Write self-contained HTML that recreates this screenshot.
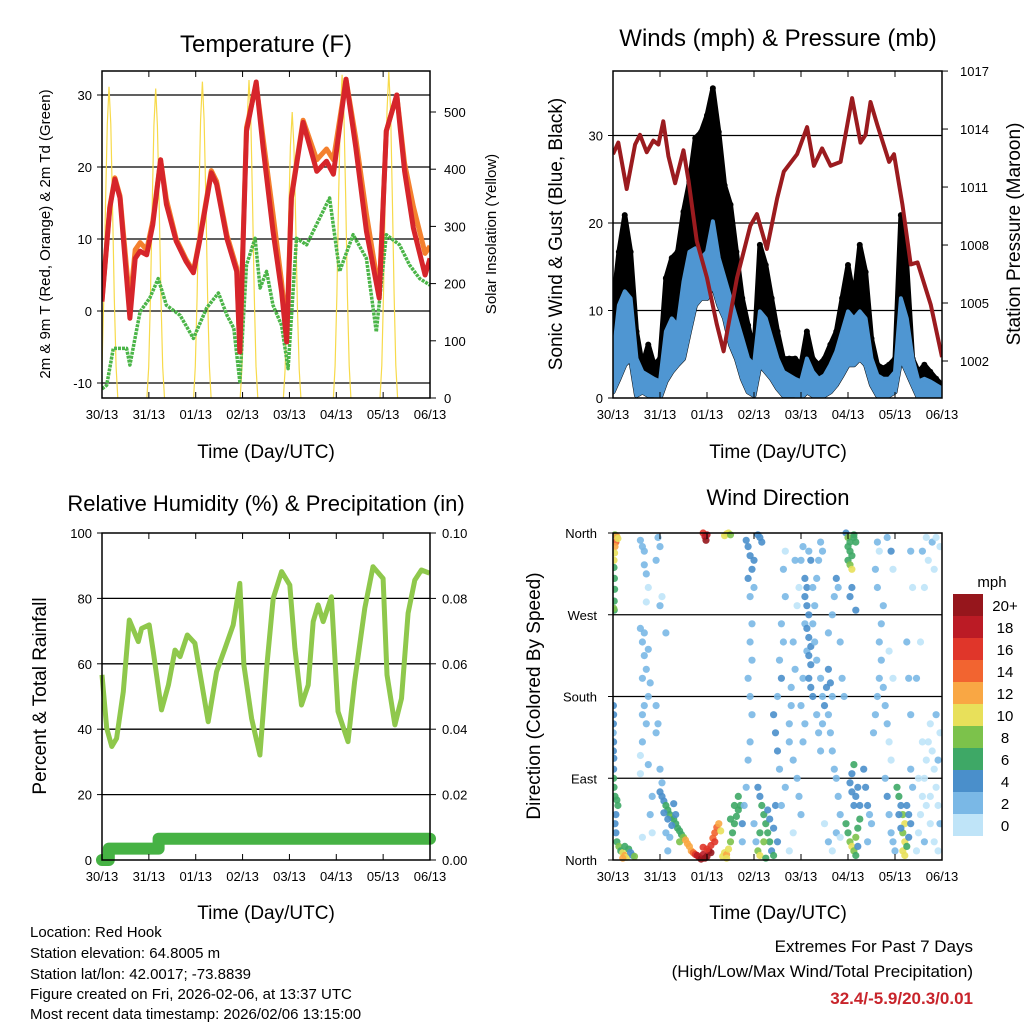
<!DOCTYPE html>
<html><head><meta charset="utf-8">
<style>
html,body{margin:0;padding:0;background:#fff;}
svg{display:block;font-family:"Liberation Sans",sans-serif;}
</style></head>
<body>
<svg id="chart" width="1024" height="1024" viewBox="0 0 1024 1024" xmlns="http://www.w3.org/2000/svg">
<rect x="0" y="0" width="1024" height="1024" fill="#fff"/>
<g id="p1"></g>
<g id="p2"></g>
<g id="p3"></g>
<g id="p4"></g>
<g id="cb"></g>
<g font-size="15" fill="#000">
<text x="30" y="937">Location: Red Hook</text>
<text x="30" y="958">Station elevation: 64.8005 m</text>
<text x="30" y="979">Station lat/lon: 42.0017; -73.8839</text>
<text x="30" y="999">Figure created on Fri, 2026-02-06, at 13:37 UTC</text>
<text x="30" y="1019">Most recent data timestamp: 2026/02/06 13:15:00</text>
</g>
<g text-anchor="end">
<text x="973" y="952" font-size="17">Extremes For Past 7 Days</text>
<text x="973" y="977" font-size="17">(High/Low/Max Wind/Total Precipitation)</text>
<text x="973" y="1004" font-size="17" font-weight="bold" fill="#c8242b">32.4/-5.9/20.3/0.01</text>
</g>
</svg>
<script>
// ---------- data ----------
const xTickLabels = ["30/13","31/13","01/13","02/13","03/13","04/13","05/13","06/13"];
const tempTicks = [-10,0,10,20,30];
const solarTicks = [0,100,200,300,400,500];
const windTicks = [0,10,20,30];
const presTicks = [1002,1005,1008,1011,1014,1017];
const rhTicks = [0,20,40,60,80,100];
const precTicks = [0,0.02,0.04,0.06,0.08,0.10];
const dirLabels = ["North","East","South","West","North"];
const cbLabels = ["20+","18","16","14","12","10","8","6","4","2","0"];
const speedColors = ["#bfe4f8","#7ab8e6","#4a8fcb","#3ea866","#7cc24b","#e8e05a","#f9a744","#f26430","#e0362a","#bb1b25","#96161c"];

const redH = [0,4,6.6,9.2,14.3,17,19.5,22.9,26,30,33,38,43,46.8,50,56,58.7,64,69,70.6,74,79,82.5,87.6,92,94.6,97,103,110,115,118.5,125,130,135.4,142,145.6,151,155,159.5,165.5,168];
const redT = [1.3,14.3,18.3,15.7,-1,7.3,8.3,7.8,12,21,14.8,9.7,6.9,5.3,9.7,19.2,17.6,10,5.5,-5.7,25,31.8,22.7,11.1,2.7,-4.3,15.7,26.2,19.4,20.8,19,32.2,22.7,11.1,1.8,25,30,19.4,11.5,5,7.3];
const orangeT = [1.5,14.5,18.5,16,1,8.5,9.5,8.5,12.5,21,15.5,10,7.2,5.5,10,19.5,18,10.5,6,-5,25.5,31.5,24,13.5,4,-3,16,26.5,21,22.5,21,32.2,24,13.5,2.5,25,30,20.5,14.5,8,9];
const greenH = [0,2.4,5.8,12.6,14.3,19.5,24.5,28.8,33,40,46.8,53.6,59.6,64,67.5,70.6,74,78.4,81,84.3,87.6,92,95.3,99.6,104.8,111.5,116.6,121.7,128.6,135.4,140.5,145.6,152.4,157.5,162.7,168];
const greenT = [-10.8,-10.3,-5.2,-5.2,-7.5,-0.1,1.8,4.5,0.8,-0.6,-3.8,0.4,2.5,-0.6,-2.4,-9.8,6.4,10.1,3.2,5.5,0.8,-2,-8,10.1,9.2,12.9,15.7,5.5,10.6,7.3,-2.9,10.6,9.2,6.4,4.5,3.6];
const solarPeakHour = [3.6,27.5,51.4,75.3,97.4,123,146.9];
const solarPeak = [544,541,553,556,500,565,570];
const solarProfile = [0,0.1,0.32,0.62,0.88,1,0.88,0.62,0.32,0.1,0];

const presH = [0,2.7,7,11.3,13.8,17.2,20.6,23.2,25.7,28.3,31.7,36,38.6,42.8,48,53,56.5,63.3,70.1,73.5,78.6,83.8,87.2,94,99.1,102.6,106.8,111.1,116.2,122.1,126.4,129,131.5,135,141,143.5,147.8,152,155.5,162.3,168];
const presP = [1012.7,1013.3,1010.9,1013.2,1013.7,1012.8,1013.4,1013.2,1014.4,1012.6,1011.2,1012.9,1011.3,1008.2,1006.3,1003.9,1002.5,1006.3,1009.0,1009.6,1007.8,1010.4,1011.8,1012.7,1014.1,1012.1,1013,1012.1,1012.3,1015.6,1013.3,1013.7,1015.4,1014.2,1012.3,1012.7,1010.1,1007,1007.1,1004.9,1002.2];
const windH = [0,3,6,9,12,15,18,21,24,27,30,33,36,39,42,45,48,51,54,57,60,63,66,69,72,75,78,81,84,87,90,93,96,99,102,105,108,111,114,117,120,123,126,129,132,135,138,141,144,147,150,153,156,159,162,165,168];
const gustW = [10.6,16.7,20.9,16.7,7.6,3.8,6.1,3.8,4.5,13.7,16,16.7,21.3,24.7,29.7,30.4,32.3,35.4,30.4,24.3,22.1,16.7,11.4,8.3,5.3,17.5,15.2,11.4,7.6,4.5,4.5,4.5,3.8,7.6,4.5,3.8,4.5,6.1,7.6,11.4,15.2,11.4,17.5,14.4,6.8,3.8,3.4,3.8,4.5,20.9,15.2,4.5,3.0,3.8,3.0,2.2,1.5];
const windHigh = [4.5,10.6,12.2,11.4,4.5,3.0,2.6,2.2,1.9,7.6,9.1,8.3,13.3,16.7,17.1,16,16.7,20.2,16,13.7,11.4,9.1,6.8,4.5,3.8,9.9,9.1,6.8,4.5,3.0,2.6,2.2,1.9,4.5,3.0,2.2,2.6,3.8,5.3,7.6,9.9,9.1,9.9,9.1,4.5,2.6,2.2,2.2,3.0,11.4,9.1,4.5,1.9,2.2,1.9,1.5,1.1];
const windLow = [0.7,2.2,3.8,4.5,0.3,0.7,0.3,0.3,0,1.9,3.0,3.8,4.5,7.6,10.6,11.4,11.4,12.9,10.6,9.1,6.1,4.5,2.2,0.7,0.3,3.8,3.0,2.2,1.1,0.3,0.3,0.3,0,0.7,0.3,0,0.3,0.7,1.5,2.6,3.8,3.8,4.5,3.8,1.5,0.3,0,0.3,0.7,4.5,3.0,1.5,0,0.3,0,0,0];

const rhH = [0,2.4,5,7.5,10.9,14,18.6,20.3,24.2,26.3,30.5,34,37.4,40,43.7,47.6,54.4,58.7,63,67.2,70.6,72.7,76.6,80.9,84.3,87.7,92,96.2,98.8,102.2,105.6,108.2,110.7,113.3,117.5,120.9,126,129.4,134.6,138.8,144,146,150,153.4,156.8,160.2,163.6,167.8];
const rhV = [56.6,40.3,34.7,37.2,51.5,73.4,66.8,70.8,71.9,63.7,45.9,53.5,64.2,62.2,68.8,66.3,42.3,57.6,64.7,71.9,84.6,59.6,43.3,32.1,58.6,80,88.2,84.1,64.7,47.4,53.5,72.9,78,72.9,80.5,45.4,36.2,54.5,77,89.7,86.1,56.6,41.3,49.4,75.5,85.6,88.7,87.7];
const precH = [0,3.5,3.5,29,29,168];
const precV = [0,0,0.0035,0.0035,0.0065,0.0065];

const dirObs = [
[1,358,8],[2,356,12],[1.5,350,14],[2.5,354,10],[1,345,12],[0.8,338,10],[0.5,330,11],[0.5,322,6],[0.7,310,6],[0.8,298,6],[0.6,285,6],[0.6,275,7],[0.4,277,8],
[0.2,170,4],[0.3,160,4],[0.2,150,4],[0.1,140,3],[0.3,130,4],[0.2,120,4],[0.4,112,4],[0.3,100,5],[0.3,90,6],[0.5,80,6],[1,70,6],[2,66,7],[2.5,60,6],[1.5,50,4],[1,40,4],[1.5,30,4],[2,20,6],[3,15,8],[4,10,7],[5,8,10],[6,5,12],[7,3,11],[5,2,13],[6,15,6],[8,12,6],[9,8,4],[10,5,5],[11,4,8],
[14,352,2],[15,345,2],[16,340,2],[16,325,2],[17,315,2],[18,300,1],[17,284,1],[14,255,2],[16,250,3],[15,240,2],[16,225,2],[18,232,3],[17,210,3],[15,200,2],[19,195,2],[18,180,2],[16,170,2],[15,160,2],[17,150,2],[15,130,2],[14,115,1],[14,95,1],[18,105,2],[22,170,2],[22,140,2],[23,150,3],[24,100,2],[25,85,2],[20,70,2],[19,50,2],[20,30,1],[15,25,1],[22,330,2],[24,345,2],[23,355,2],[25,290,1],[24,280,2],[27,250,2],[28,10,2],
[24,75,4],[25,70,4],[26,65,5],[27,60,6],[28,55,7],[29,50,7],[30,47,8],[31,45,7],[32,40,6],[33,35,6],[34,32,6],[35,28,6],[26,52,4],[28,45,4],[30,38,4],[32,50,4],[27,30,2],[29,25,2],[31,62,4],[34,20,8],[36,25,8],
[37,22,12],[38,18,12],[39,15,12],[40,10,13],[41,8,14],[42,6,16],[43,5,18],[44,3,19],[45,1,20],[46,6,18],[47,2,20],[48,4,20],[49,10,18],[50,16,16],[51,24,14],[52,30,15],[53,36,14],[54,40,12],[55,32,11],[52,20,16],[50,8,20],[46,14,16],[48,12,16],
[46,360,16],[47,356,18],[47.5,352,20],[48,358,18],[57,357,10],[58,359,10],[59,360,10],[60,358,9],
[56,4,10],[57,8,11],[58,6,12],[59,12,10],[60,20,8],[61,30,7],[62,40,6],[63,48,6],[64,55,6],[65,60,6],[60,45,6],[62,60,6],[58,2,10],[64,70,6],[66,40,4],[66,20,3],
[68,352,4],[69,345,4],[70,335,4],[71,320,4],[69,310,4],[70,290,2],[71,260,2],[70,240,2],[71,220,2],[69,200,3],[70,180,3],[71,160,3],[70,130,3],[69,110,3],[68,80,2],[67,60,2],[72,40,3],[73,20,3],[74,358,4],[75,355,4],[76,350,4],[72,330,4],[72,300,3],
[74,80,4],[75,70,5],[76,60,6],[77,50,6],[78,40,7],[79,30,6],[80,20,6],[81,10,5],[82,5,6],[75,30,7],[77,20,8],[79,55,4],[80,45,4],[82,35,4],[74,10,8],[75,5,10],[78,2,6],[83,60,4],[84,20,4],
[82,160,4],[83,140,4],[84,120,4],[85,100,3],[84,180,3],[86,200,4],[85,220,2],[87,240,2],[86,260,2],[88,290,2],[87,320,2],[88,340,1],[90,150,3],[91,170,3],[90,130,3],[92,110,2],[91,190,2],[93,210,2],[92,240,2],[94,280,1],[95,300,1],[93,330,2],[94,90,2],[95,70,2],[96,50,2],[92,30,1],[90,10,1],[86,60,2],[88,80,2],[97,130,2],[98,150,2],[96,170,2],[97,200,2],[99,230,2],[98,260,2],[96,330,2],[97,345,3],
[98,310,4],[99,300,4],[98,290,4],[99,280,5],[100,270,4],[99,255,4],[100,245,5],[101,235,5],[100,225,4],[101,215,5],[100,200,4],[101,190,4],[102,180,4],[102,260,3],[103,240,3],[104,220,3],[102,300,3],[103,280,3],[101,330,4],[100,340,2],
[104,160,3],[105,140,3],[106,120,2],[106,200,3],[107,180,3],[108,170,4],[107,150,3],[109,190,4],[110,210,4],[111,195,4],[112,180,3],[110,160,3],[111,140,3],[112,120,2],[113,100,2],[114,90,2],[115,70,2],[116,50,2],[104,310,2],[105,330,2],[106,350,2],[107,340,2],[110,250,2],[112,270,2],[113,290,3],[114,310,4],[115,300,3],[116,240,2],[117,200,2],[118,180,2],[108,40,1],[110,20,2],[112,10,1],[114,30,2],[116,25,1],
[119,360,4],[120,355,8],[121,350,7],[120,345,6],[121,340,7],[122,335,6],[120,330,6],[121,325,8],[122,320,10],[123,355,6],[124,350,6],[123,358,7],[122,300,4],[121,290,4],[124,275,4],[119,40,6],[120,30,6],[121,20,8],[122,15,10],[123,10,9],[124,25,8],[125,35,6],[126,45,6],[123,60,4],[122,75,4],[121,85,4],[122,95,4],[123,105,6],[124,70,4],[125,80,4],[126,60,4],[124,5,6],[125,15,4],
[128,100,4],[129,80,4],[130,60,4],[131,50,3],[132,40,3],[130,20,2],[133,140,2],[134,160,2],[135,180,3],[136,200,3],[137,220,3],[136,240,2],[137,260,2],[138,280,2],[135,300,2],[134,320,2],[136,340,1],[135,350,2],[138,190,2],[139,170,2],[140,150,2],[141,130,1],[142,110,1],[139,90,3],[140,70,4],[141,50,2],[142,30,2],[143,20,2],[144,10,2],[140,355,2],[142,340,4],[143,320,1],[141,230,1],[143,200,1],
[145,80,6],[146,70,6],[147,60,4],[148,50,8],[149,40,10],[148,30,8],[149,20,10],[148,10,10],[149,5,10],[150,60,4],[151,50,4],[152,40,4],[151,25,4],[150,15,6],[146,50,4],[147,35,4],[152,100,2],[153,80,2],[152,160,2],[151,200,2],[150,240,2],[153,300,1],[152,340,2],
[155,10,1],[156,30,1],[157,50,0],[158,70,1],[159,90,0],[160,110,1],[161,130,1],[162,150,1],[163,120,0],[164,100,1],[165,80,1],[166,60,1],[167,40,2],[156,90,1],[158,130,1],[160,60,1],[162,40,1],[164,20,1],[166,10,1],[155,200,2],[157,240,1],[159,300,1],[161,330,1],[163,350,2],[165,355,1],[167,345,1],[160,355,1],[158,340,2],[164,320,1],[166,110,2],[167,140,1],[165,160,2],[162,70,1],[159,20,2]
];

// ---------- helpers ----------
const NS = "http://www.w3.org/2000/svg";
function mk(parent, tag, attrs, text){
  const e = document.createElementNS(NS, tag);
  for (const k in attrs) e.setAttribute(k, attrs[k]);
  if (text !== undefined) e.textContent = text;
  parent.appendChild(e);
  return e;
}
function pathFrom(xs, ys, fx, fy){
  let d = "";
  for (let i=0;i<xs.length;i++) d += (i?"L":"M") + fx(xs[i]).toFixed(1) + "," + fy(ys[i]).toFixed(1);
  return d;
}
function frame(g, L, T, R, B, nameBase){
  const f = mk(g,"rect",{x:L,y:T,width:R-L,height:B-T,fill:"none",stroke:"#000","stroke-width":1.5});
  
  
}
function xAxis(g, L, R, B, T, name){
  const ax = mk(g,"g",{});
  
  
  xTickLabels.forEach((lab,i)=>{
    const x = L + i*(R-L)/7;
    mk(ax,"line",{x1:x,y1:B,x2:x,y2:B-6,stroke:"#000","stroke-width":1});
    mk(ax,"line",{x1:x,y1:T,x2:x,y2:T+6,stroke:"#000","stroke-width":1});
    const t = mk(ax,"text",{x:x,y:B+21,"font-size":13,"text-anchor":"middle"},lab);
    
    
  });
}
function label(g, x, y, txt, size, name, rot, anchor){
  const t = mk(g,"text",{x:x,y:y,"font-size":size,"text-anchor":anchor||"middle"},txt);
  if (rot) t.setAttribute("transform","rotate(-90 "+x+" "+y+")");
  
  
  return t;
}
function hgrid(g, L, R, y){
  mk(g,"line",{x1:L,y1:y,x2:R,y2:y,stroke:"#000","stroke-width":1.3});
}

// ---------- panel 1: temperature ----------
(function(){
  const g = document.getElementById("p1");
  const L=102,R=430,T=71,B=398;
  const x = h => L + h/168*(R-L);
  const yT = t => 311 - 7.2*t;
  const yS = s => 398 - 0.572*s;
  label(g,266,52,"Temperature (F)",24,"temperature-title");
  tempTicks.forEach(v=>{
    hgrid(g,L,R,yT(v));
    mk(g,"line",{x1:L,y1:yT(v),x2:L-5,y2:yT(v),stroke:"#000"});
    label(g,L-10,yT(v)+5,String(v),13,"temp-tick-label",false,"end");
  });
  solarTicks.forEach(v=>{
    mk(g,"line",{x1:R,y1:yS(v),x2:R+6,y2:yS(v),stroke:"#000"});
    label(g,R+14,yS(v)+5,String(v),13,"solar-tick-label",false,"start");
  });
  const cp = mk(g,"clipPath",{id:"c1"}); mk(cp,"rect",{x:L,y:T,width:R-L,height:B-T});
  const sg = mk(g,"g",{"clip-path":"url(#c1)"});
  solarPeakHour.forEach((ph,d)=>{
    const hs = solarProfile.map((_,i)=>ph-4.5+i*0.9);
    const vs = solarProfile.map(p=>p*solarPeak[d]);
    const p = mk(sg,"path",{d:pathFrom(hs,vs,x,yS),fill:"none",stroke:"#f7da4a","stroke-width":1.2});
    
    
  });
  const gp = mk(sg,"path",{d:pathFrom(greenH,greenT,x,yT),fill:"none",stroke:"#4bb548","stroke-width":3.5,"stroke-linejoin":"round","stroke-dasharray":"3 1"});
  
  
  const op = mk(sg,"path",{d:pathFrom(redH,orangeT,x,yT),fill:"none",stroke:"#f4802e","stroke-width":5,"stroke-linejoin":"round"});
  
  
  const rp = mk(sg,"path",{d:pathFrom(redH,redT,x,yT),fill:"none",stroke:"#d6252b","stroke-width":5,"stroke-linejoin":"round"});
  
  
  frame(g,L,T,R,B,"temperature");
  xAxis(g,L,R,B,T,"temperature-x-axis");
  label(g,266,458,"Time (Day/UTC)",19,"temperature-x-title");
  label(g,50,234,"2m & 9m T (Red, Orange) & 2m Td (Green)",15,"temperature-y-title",true);
  label(g,496,234,"Solar Insolation (Yellow)",15,"solar-y-title",true);
})();

// ---------- panel 2: winds ----------
(function(){
  const g = document.getElementById("p2");
  const L=613,R=942,T=71,B=398;
  const x = h => L + h/168*(R-L);
  const yW = w => 398 - 8.75*w;
  const yP = p => 361 - 19.33*(p-1002);
  label(g,778,46,"Winds (mph) & Pressure (mb)",24,"winds-title");
  windTicks.forEach(v=>{
    if (v>0) hgrid(g,L,R,yW(v));
    mk(g,"line",{x1:L,y1:yW(v),x2:L-5,y2:yW(v),stroke:"#000"});
    label(g,L-10,yW(v)+5,String(v),13,"wind-tick-label",false,"end");
  });
  presTicks.forEach(v=>{
    mk(g,"line",{x1:R,y1:yP(v),x2:R+6,y2:yP(v),stroke:"#000"});
    label(g,R+18,yP(v)+5,String(v),13,"pressure-tick-label",false,"start");
  });
  const cp = mk(g,"clipPath",{id:"c2"}); mk(cp,"rect",{x:L,y:T,width:R-L,height:B-T});
  const sg = mk(g,"g",{"clip-path":"url(#c2)"});
  function band(lo, hi){
    let d="";
    windH.forEach((h,i)=>{ d += (i?"L":"M")+x(h).toFixed(1)+","+yW(hi[i]).toFixed(1); });
    for (let i=windH.length-1;i>=0;i--) d += "L"+x(windH[i]).toFixed(1)+","+yW(lo[i]).toFixed(1);
    return d+"Z";
  }
  const gb = mk(sg,"path",{d:band(windLow,gustW),fill:"#000",stroke:"#000","stroke-width":5,"stroke-linejoin":"round"});
  
  
  windH.forEach((h,i)=>{
    const c = mk(sg,"circle",{cx:x(h),cy:yW(gustW[i]),r:3,fill:"#000"});
    
    
  });
  const bb = mk(sg,"path",{d:band(windLow,windHigh),fill:"#4f96d2",stroke:"#4f96d2","stroke-width":4,"stroke-linejoin":"round"});
  
  
  const pp = mk(sg,"path",{d:pathFrom(presH,presP,x,yP),fill:"none",stroke:"#9b1b1f","stroke-width":4,"stroke-linejoin":"round"});
  
  
  frame(g,L,T,R,B,"winds");
  xAxis(g,L,R,B,T,"winds-x-axis");
  label(g,778,458,"Time (Day/UTC)",19,"winds-x-title");
  label(g,562,234,"Sonic Wind & Gust (Blue, Black)",19,"wind-y-title",true);
  label(g,1020,234,"Station Pressure (Maroon)",19,"pressure-y-title",true);
})();

// ---------- panel 3: humidity ----------
(function(){
  const g = document.getElementById("p3");
  const L=102,R=430,T=533,B=860;
  const x = h => L + h/168*(R-L);
  const yR = r => 860 - 3.27*r;
  const yPr = p => 860 - 3270*p;
  label(g,266,511,"Relative Humidity (%) & Precipitation (in)",22,"humidity-title");
  rhTicks.forEach(v=>{
    if (v>0 && v<100) hgrid(g,L,R,yR(v));
    mk(g,"line",{x1:L,y1:yR(v),x2:L-5,y2:yR(v),stroke:"#000"});
    label(g,L-10,yR(v)+5,String(v),13,"rh-tick-label",false,"end");
  });
  precTicks.forEach(v=>{
    mk(g,"line",{x1:R,y1:yPr(v),x2:R+6,y2:yPr(v),stroke:"#000"});
    label(g,R+12,yPr(v)+5,v.toFixed(2),13,"precip-tick-label",false,"start");
  });
  const cp = mk(g,"clipPath",{id:"c3"}); mk(cp,"rect",{x:L-8,y:T,width:R-L+16,height:B-T+8});
  const sg = mk(g,"g",{"clip-path":"url(#c3)"});
  let d="";
  precH.forEach((h,i)=>{ d += (i?"L":"M")+x(h).toFixed(1)+","+yPr(precV[i]).toFixed(1); });
  const pr = mk(sg,"path",{d:d,fill:"none",stroke:"#46b244","stroke-width":12,"stroke-linecap":"round","stroke-linejoin":"round"});
  
  
  const rp = mk(sg,"path",{d:pathFrom(rhH,rhV,x,yR),fill:"none",stroke:"#8fc84c","stroke-width":5,"stroke-linejoin":"round"});
  
  
  frame(g,L,T,R,B,"humidity");
  xAxis(g,L,R,B,T,"humidity-x-axis");
  label(g,266,919,"Time (Day/UTC)",19,"humidity-x-title");
  label(g,46,696,"Percent & Total Rainfall",19,"humidity-y-title",true);
})();

// ---------- panel 4: wind direction ----------
(function(){
  const g = document.getElementById("p4");
  const L=613,R=942,T=533,B=860;
  const x = h => L + h/168*(R-L);
  const yD = d => 860 - d/360*327;
  label(g,778,505,"Wind Direction",22,"direction-title");
  dirLabels.forEach((lab,i)=>{
    const y = yD(i*90);
    if (i>0 && i<4) hgrid(g,L,R,y);
    mk(g,"line",{x1:L,y1:y,x2:L-5,y2:y,stroke:"#000"});
    label(g,L-16,y+5,lab,13,"direction-tick-label",false,"end");
  });
  const cp = mk(g,"clipPath",{id:"c4"}); mk(cp,"rect",{x:L,y:T-4,width:R-L,height:B-T+8});
  const sg = mk(g,"g",{"clip-path":"url(#c4)"});
  dirObs.forEach(o=>{
    const idx = Math.min(10, Math.floor(o[2]/2));
    const c = mk(sg,"circle",{cx:x(o[0]).toFixed(1),cy:yD(o[1]).toFixed(1),r:3.6,fill:speedColors[idx],"fill-opacity":0.9});
    
    
  });
  frame(g,L,T,R,B,"direction");
  xAxis(g,L,R,B,T,"direction-x-axis");
  label(g,778,919,"Time (Day/UTC)",19,"direction-x-title");
  label(g,540,696,"Direction (Colored By Speed)",19,"direction-y-title",true);
})();

// ---------- colorbar ----------
(function(){
  const g = document.getElementById("cb");
  label(g,992,587,"mph",15,"colorbar-unit");
  cbLabels.forEach((lab,i)=>{
    const y = 594 + i*22;
    const r = mk(g,"rect",{x:953,y:y,width:30,height:22,fill:speedColors[10-i]});
    
    
    label(g,1005,y+17,lab,15,"colorbar-label");
  });
})();
</script>
</body></html>
